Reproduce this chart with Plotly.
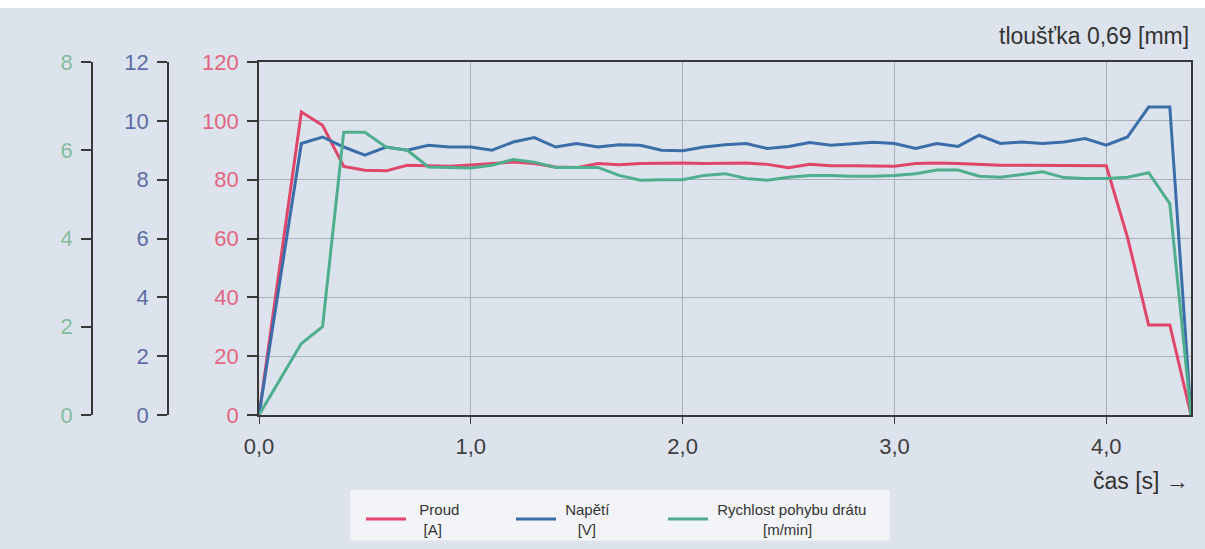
import plotly.graph_objects as go

# ---- data ----
time_s = [0.0, 0.2, 0.3, 0.4, 0.5, 0.6, 0.7, 0.8, 0.9, 1.0,
          1.1, 1.2, 1.3, 1.4, 1.5, 1.6, 1.7, 1.8, 1.9, 2.0,
          2.1, 2.2, 2.3, 2.4, 2.5, 2.6, 2.7, 2.8, 2.9, 3.0,
          3.1, 3.2, 3.3, 3.4, 3.5, 3.6, 3.7, 3.8, 3.9, 4.0,
          4.1, 4.2, 4.3, 4.4]

proud_A = [0, 103, 98.5, 84.5, 83.2, 83.0, 84.9, 84.7, 84.6, 85.0,
           85.5, 86.0, 85.5, 84.3, 84.1, 85.5, 85.1, 85.5, 85.6, 85.7,
           85.5, 85.5, 85.7, 85.2, 84.1, 85.2, 84.7, 84.7, 84.7, 84.6,
           85.5, 85.7, 85.5, 85.2, 84.9, 84.9, 84.9, 84.8, 84.7, 84.7,
           60.5, 30.6, 30.6, 0]

napeti_V = [0, 9.23, 9.45, 9.11, 8.83, 9.11, 9.0, 9.17, 9.11, 9.11,
            9.0, 9.28, 9.43, 9.11, 9.23, 9.11, 9.19, 9.17, 9.0, 8.98,
            9.11, 9.19, 9.23, 9.06, 9.13, 9.26, 9.17, 9.23, 9.27, 9.23,
            9.06, 9.23, 9.13, 9.51, 9.23, 9.28, 9.23, 9.28, 9.4, 9.17,
            9.45, 10.47, 10.47, 0]

rychlost_m_min = [0, 1.62, 2.0, 6.41, 6.41, 6.07, 6.0, 5.62, 5.61, 5.6,
                  5.66, 5.79, 5.73, 5.61, 5.61, 5.61, 5.43, 5.32, 5.33, 5.33,
                  5.43, 5.47, 5.36, 5.32, 5.39, 5.43, 5.43, 5.41, 5.41, 5.43,
                  5.47, 5.55, 5.55, 5.41, 5.39, 5.45, 5.51, 5.38, 5.36, 5.36,
                  5.39, 5.49, 4.79, 0]

x_ticks = [0, 1, 2, 3, 4]
x_tick_labels = ["0,0", "1,0", "2,0", "3,0", "4,0"]
NB = "\u00a0"
series_names = ["Proud", "Napětí", "Rychlost pohybu drátu"]
series_units = ["[A]", "[V]", "[m/min]"]
# non-breaking spaces roughly centre the unit under the name
name_pad = [2, 1, 1]
unit_pad = [3, 4, 12]

# ---- style ----
W, H = 1205, 549
ML, MR, MT, MB = 40, 14, 62, 134
BG = "#dde3ed"
AX = "#383838"
GRID = "#aab0bb"
RED, BLUE, GREEN = "#e0456a", "#3b6ea8", "#4fae8e"
RED_T, BLUE_T, GREEN_T = "#e2667f", "#5d6da6", "#86bc9c"
FONT = "Liberation Sans, Arial, sans-serif"

pw = W - ML - MR
ph = H - MT - MB
def px_x(px):
    return (px - ML) / pw
def px_y(py):
    return (H - MB - py) / ph

labels = [NB * name_pad[i] + series_names[i] + "<br>" + NB * unit_pad[i] + series_units[i]
          for i in range(3)]

fig = go.Figure()
fig.add_trace(go.Scatter(x=time_s, y=proud_A, name=labels[0], mode="lines",
                         line=dict(color=RED, width=3), yaxis="y", legend="legend",
                         showlegend=True))
fig.add_trace(go.Scatter(x=time_s, y=napeti_V, name=labels[1], mode="lines",
                         line=dict(color=BLUE, width=3), yaxis="y2", legend="legend2",
                         showlegend=True))
fig.add_trace(go.Scatter(x=time_s, y=rychlost_m_min, name=labels[2], mode="lines",
                         line=dict(color=GREEN, width=3), yaxis="y3", legend="legend3",
                         showlegend=True))

common_y = dict(showline=True, linecolor=AX, linewidth=1.6, ticks="outside",
                ticklen=10, tickcolor=AX, tickwidth=1.6, zeroline=False,
                ticklabelstandoff=4)

def leg(xpx):
    return dict(x=px_x(xpx), y=px_y(493), xanchor="left", yanchor="top",
                bgcolor="rgba(0,0,0,0)", borderwidth=0,
                font=dict(size=15, color="#333333"), itemwidth=40,
                valign="middle", orientation="h", visible=True)

fig.update_layout(
    width=W, height=H,
    showlegend=True,
    margin=dict(l=ML, r=MR, t=MT, b=MB, pad=0, autoexpand=False),
    paper_bgcolor=BG, plot_bgcolor=BG,
    font=dict(family=FONT, size=22, color="#3d3d3d"),
    separators=", ",
    xaxis=dict(domain=[px_x(259), 1], range=[0, 4.4], tickvals=x_ticks,
               ticktext=x_tick_labels, showline=True, linecolor=AX, linewidth=1.6,
               mirror=True, ticks="outside", ticklen=7, tickcolor=AX,
               ticklabelstandoff=4,
               showgrid=True, gridcolor=GRID, gridwidth=1, zeroline=False,
               tickfont=dict(size=22, color="#3d3d3d")),
    yaxis=dict(range=[0, 120], dtick=20, showgrid=True, gridcolor=GRID,
               gridwidth=1, mirror=True, tickfont=dict(size=22, color=RED_T),
               **common_y),
    yaxis2=dict(range=[0, 12], dtick=2, overlaying="y", anchor="free",
                position=px_x(168), side="left", showgrid=False,
                tickfont=dict(size=22, color=BLUE_T), **common_y),
    yaxis3=dict(range=[0, 8], dtick=2, overlaying="y", anchor="free",
                position=px_x(92), side="left", showgrid=False,
                tickfont=dict(size=22, color=GREEN_T), **common_y),
    legend=leg(361),
    legend2=leg(511),
    legend3=leg(663),
    annotations=[
        dict(text="tloušťka 0,69 [mm]", xref="paper", yref="paper",
             x=1, y=px_y(36), xanchor="right", yanchor="middle",
             showarrow=False, font=dict(size=23, color="#333333")),
        dict(text="čas [s] →", xref="paper", yref="paper",
             x=1, y=px_y(481), xanchor="right", yanchor="middle",
             showarrow=False, font=dict(size=23, color="#333333")),
    ],
    shapes=[
        dict(type="rect", xref="paper", yref="paper", x0=px_x(0), x1=px_x(W),
             y0=px_y(8), y1=px_y(0), fillcolor="#ffffff", line=dict(width=0),
             layer="below"),
        dict(type="rect", xref="paper", yref="paper", x0=px_x(350), x1=px_x(890),
             y0=px_y(541), y1=px_y(490), fillcolor="#f2f4f7",
             line=dict(width=1, color="#e4e7ed"), layer="below"),
    ],
)

fig.write_html("out.html")
